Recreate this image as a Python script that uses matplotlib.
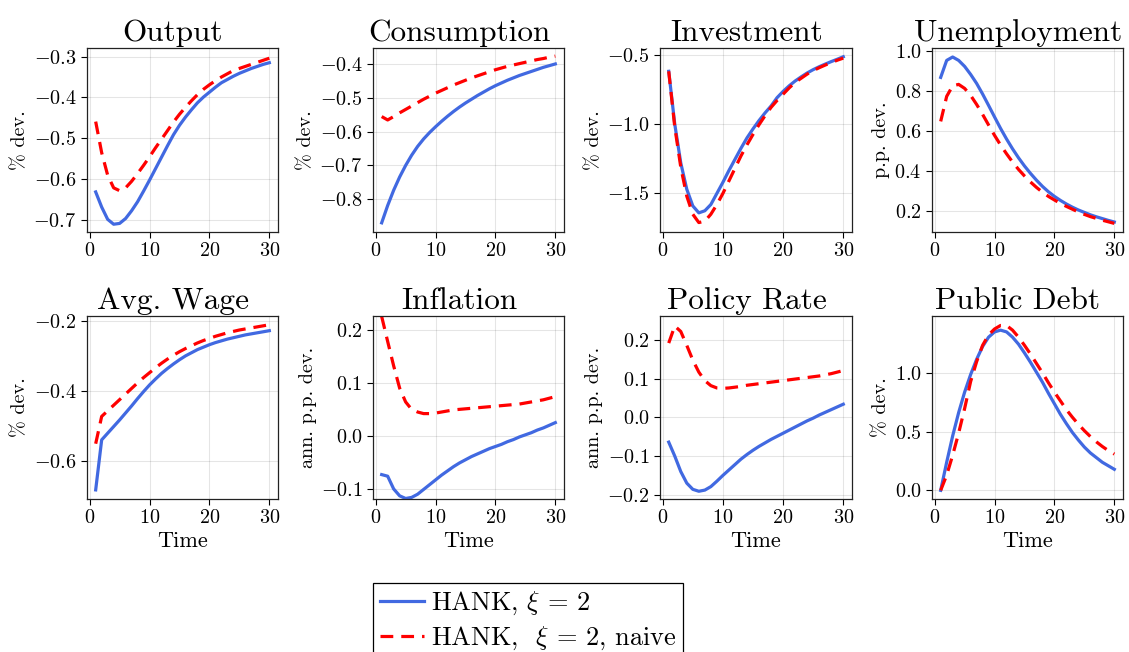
# Impulse responses, HANK vs naive, 2x4 panel grid
import matplotlib.pyplot as plt

plt.rcParams['font.family'] = 'serif'
plt.rcParams['font.serif'] = ['cmr10']
plt.rcParams['mathtext.fontset'] = 'cm'
plt.rcParams['axes.formatter.use_mathtext'] = True

time = list(range(1, 31))

# values
output_hank = [-0.631, -0.668, -0.698, -0.710, -0.708, -0.696, -0.677, -0.655, -0.629, -0.602,
               -0.574, -0.546, -0.518, -0.491, -0.468, -0.448, -0.430, -0.413, -0.399, -0.387,
               -0.375, -0.364, -0.356, -0.348, -0.341, -0.335, -0.329, -0.324, -0.319, -0.315]
output_naive = [-0.459, -0.535, -0.590, -0.621, -0.628, -0.621, -0.605, -0.586, -0.566, -0.545,
                -0.523, -0.502, -0.481, -0.460, -0.441, -0.424, -0.408, -0.393, -0.380, -0.369,
                -0.359, -0.350, -0.342, -0.334, -0.329, -0.324, -0.319, -0.314, -0.309, -0.304]

cons_hank = [-0.869, -0.818, -0.773, -0.734, -0.700, -0.670, -0.644, -0.622, -0.603, -0.586,
             -0.570, -0.555, -0.541, -0.528, -0.516, -0.505, -0.494, -0.484, -0.474, -0.465,
             -0.457, -0.449, -0.442, -0.435, -0.429, -0.423, -0.417, -0.411, -0.406, -0.401]
cons_naive = [-0.556, -0.566, -0.556, -0.545, -0.535, -0.525, -0.515, -0.505, -0.496, -0.487,
              -0.479, -0.471, -0.463, -0.456, -0.449, -0.442, -0.436, -0.430, -0.424, -0.418,
              -0.413, -0.408, -0.404, -0.400, -0.396, -0.392, -0.388, -0.385, -0.381, -0.378]

inv_hank = [-0.62, -1.00, -1.28, -1.47, -1.59, -1.64, -1.625, -1.58, -1.50, -1.42,
            -1.335, -1.255, -1.175, -1.10, -1.035, -0.975, -0.92, -0.87, -0.81, -0.765,
            -0.725, -0.69, -0.66, -0.632, -0.608, -0.587, -0.568, -0.550, -0.533, -0.515]
inv_naive = [-0.62, -1.02, -1.31, -1.52, -1.65, -1.71, -1.70, -1.65, -1.58, -1.50,
             -1.41, -1.32, -1.23, -1.15, -1.075, -1.005, -0.94, -0.88, -0.83, -0.785,
             -0.74, -0.70, -0.67, -0.64, -0.615, -0.594, -0.575, -0.557, -0.54, -0.525]

unemp_hank = [0.87, 0.955, 0.972, 0.955, 0.925, 0.885, 0.84, 0.787, 0.73, 0.672,
              0.615, 0.562, 0.513, 0.468, 0.427, 0.39, 0.356, 0.325, 0.298, 0.275,
              0.255, 0.237, 0.221, 0.207, 0.195, 0.183, 0.173, 0.164, 0.155, 0.147]
unemp_naive = [0.65, 0.775, 0.828, 0.835, 0.815, 0.78, 0.735, 0.685, 0.632, 0.58,
               0.532, 0.488, 0.447, 0.41, 0.377, 0.347, 0.32, 0.296, 0.275, 0.257,
               0.24, 0.225, 0.211, 0.197, 0.185, 0.174, 0.165, 0.156, 0.148, 0.140]

wage_hank = [-0.684, -0.541, -0.522, -0.503, -0.484, -0.464, -0.444, -0.423, -0.403, -0.384,
             -0.367, -0.351, -0.337, -0.324, -0.312, -0.301, -0.292, -0.283, -0.276, -0.269,
             -0.263, -0.258, -0.253, -0.249, -0.245, -0.241, -0.238, -0.235, -0.232, -0.229]
wage_naive = [-0.552, -0.474, -0.458, -0.442, -0.426, -0.41, -0.394, -0.378, -0.363, -0.349,
              -0.335, -0.322, -0.31, -0.299, -0.289, -0.28, -0.272, -0.264, -0.257, -0.251,
              -0.245, -0.24, -0.235, -0.231, -0.227, -0.224, -0.221, -0.218, -0.215, -0.212]

infl_hank = [-0.073, -0.076, -0.1, -0.113, -0.118, -0.116, -0.11, -0.101, -0.092, -0.083,
             -0.074, -0.066, -0.058, -0.051, -0.045, -0.039, -0.034, -0.029, -0.024, -0.02,
             -0.016, -0.011, -0.007, -0.002, 0.002, 0.006, 0.011, 0.015, 0.02, 0.025]
infl_naive = [0.225, 0.178, 0.132, 0.09, 0.064, 0.05, 0.045, 0.042, 0.042, 0.043,
              0.045, 0.047, 0.049, 0.05, 0.051, 0.052, 0.053, 0.054, 0.055, 0.056,
              0.057, 0.058, 0.059, 0.06, 0.062, 0.064, 0.066, 0.068, 0.071, 0.074]

rate_hank = [-0.064, -0.1, -0.14, -0.17, -0.186, -0.191, -0.188, -0.179, -0.165, -0.15,
             -0.136, -0.122, -0.108, -0.096, -0.085, -0.075, -0.066, -0.057, -0.049, -0.041,
             -0.033, -0.025, -0.017, -0.009, -0.002, 0.006, 0.013, 0.02, 0.027, 0.034]
rate_naive = [0.192, 0.236, 0.222, 0.186, 0.148, 0.117, 0.095, 0.082, 0.076, 0.075,
              0.076, 0.078, 0.08, 0.083, 0.085, 0.087, 0.089, 0.091, 0.093, 0.095,
              0.097, 0.099, 0.101, 0.103, 0.105, 0.107, 0.11, 0.113, 0.117, 0.121]

debt_hank = [0.0, 0.24, 0.465, 0.665, 0.84, 0.99, 1.12, 1.23, 1.31, 1.355,
             1.37, 1.355, 1.31, 1.25, 1.175, 1.095, 1.01, 0.925, 0.83, 0.74,
             0.65, 0.57, 0.495, 0.43, 0.37, 0.32, 0.28, 0.24, 0.21, 0.18]
debt_naive = [0.0, 0.13, 0.30, 0.49, 0.70, 0.93, 1.10, 1.24, 1.33, 1.38,
              1.41, 1.41, 1.37, 1.31, 1.24, 1.165, 1.085, 1.005, 0.92, 0.84,
              0.765, 0.69, 0.625, 0.565, 0.51, 0.46, 0.415, 0.375, 0.34, 0.31]

titles = ["Output", "Consumption", "Investment", "Unemployment",
          "Avg. Wage", "Inflation", "Policy Rate", "Public Debt"]
ylabels = ["% dev.", "% dev.", "% dev.", "p.p. dev.",
           "% dev.", "ann. p.p. dev.", "ann. p.p. dev.", "% dev."]
hank_series = [output_hank, cons_hank, inv_hank, unemp_hank,
               wage_hank, infl_hank, rate_hank, debt_hank]
naive_series = [output_naive, cons_naive, inv_naive, unemp_naive,
                wage_naive, infl_naive, rate_naive, debt_naive]

# axis limits and ticks per panel
ylims = [(-0.729, -0.279), (-0.896, -0.354), (-1.778, -0.452), (0.097, 1.017),
         (-0.71, -0.187), (-0.119, 0.226), (-0.211, 0.262), (-0.074, 1.491)]
yticks = [[-0.7, -0.6, -0.5, -0.4, -0.3],
          [-0.8, -0.7, -0.6, -0.5, -0.4],
          [-1.5, -1.0, -0.5],
          [0.2, 0.4, 0.6, 0.8, 1.0],
          [-0.6, -0.4, -0.2],
          [-0.1, 0.0, 0.1, 0.2],
          [-0.2, -0.1, 0.0, 0.1, 0.2],
          [0.0, 0.5, 1.0]]

W, H = 1129, 652
fig = plt.figure(figsize=(W / 100, H / 100), dpi=100)

# panel boxes in pixels: left, right for columns; top, bottom for rows
col_px = [(87, 278), (373, 564), (660, 852), (932, 1123)]
row_px = [(48, 232), (316, 499)]

blue = "#4169E1"
red = "#FF0000"

for i in range(8):
    r, c = divmod(i, 4)
    left, right = col_px[c]
    top, bottom = row_px[r]
    ax = fig.add_axes([left / W, 1 - bottom / H, (right - left) / W, (bottom - top) / H])

    ax.plot(time, hank_series[i], color=blue, lw=2.3, label=r"HANK, $\xi$ = 2")
    ax.plot(time, naive_series[i], color=red, lw=2.3, dashes=(4, 2.5),
            label=r"HANK,  $\xi$ = 2, naive")

    ax.set_xlim(-0.45, 31.45)
    ax.set_ylim(*ylims[i])
    ax.set_xticks([0, 10, 20, 30])
    ax.set_yticks(yticks[i])
    ax.grid(True, color="black", alpha=0.1, lw=0.8)
    ax.tick_params(direction="out", length=4, width=0.8, labelsize=14.5)
    for s in ax.spines.values():
        s.set_linewidth(0.9)
        s.set_color("#222222")

    # titles sit a little left of the axes centre, as in the original
    ax.set_title(titles[i], fontsize=22.5, pad=5, x=0.45)
    ax.set_ylabel(ylabels[i], fontsize=14.5, labelpad=3)
    if r == 1:
        ax.set_xlabel("Time", fontsize=16, labelpad=3)

    if i == 0:
        handles, labels = ax.get_legend_handles_labels()

leg = fig.legend(handles, labels, loc="upper left", bbox_to_anchor=(373 / W, 1 - 583 / H),
                 fontsize=19, frameon=True, fancybox=False, framealpha=1,
                 edgecolor="black", handlelength=1.7, handletextpad=0.25,
                 borderpad=0.25, labelspacing=0.3, borderaxespad=0)
leg.get_frame().set_linewidth(0.9)

fig.savefig("out.png", dpi=100)
